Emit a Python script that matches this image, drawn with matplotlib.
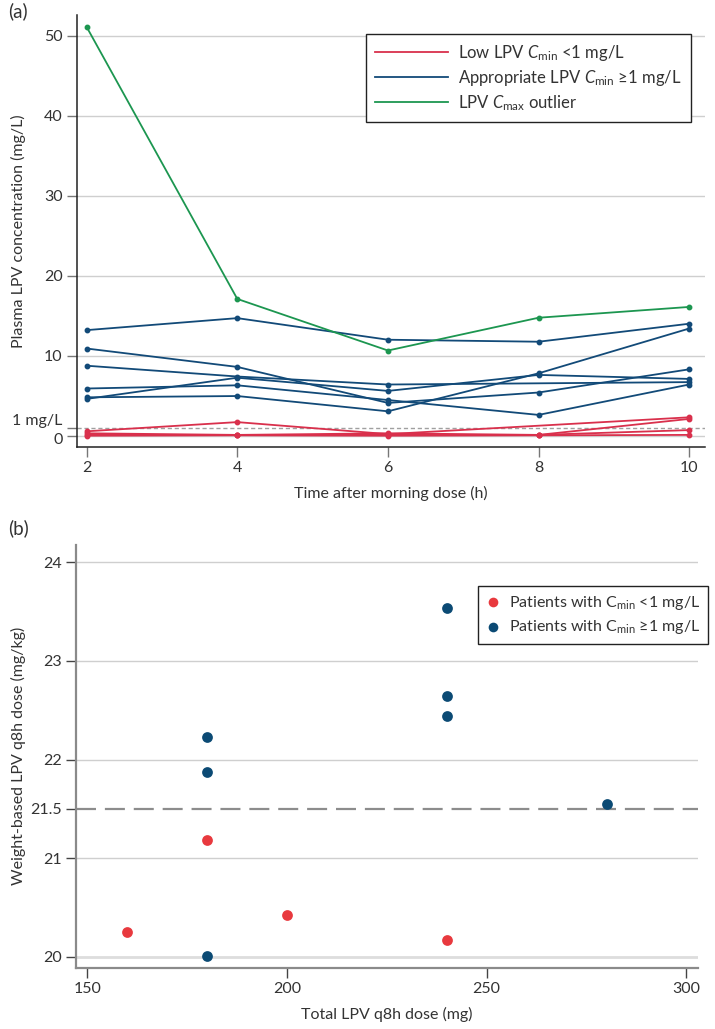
import numpy as np
import matplotlib
matplotlib.use('Agg')
import matplotlib.pyplot as plt
import matplotlib.transforms as mtransforms
from matplotlib.lines import Line2D

plt.rcParams['font.family'] = ['Lato', 'DejaVu Sans']
plt.rcParams['mathtext.fontset'] = 'custom'
plt.rcParams['mathtext.rm'] = 'Lato'
plt.rcParams['mathtext.it'] = 'Lato:italic'
plt.rcParams['mathtext.default'] = 'regular'

nan = np.nan
# ---------------- Panel (a) data ----------------
times = [2, 4, 6, 8, 10]
low_cmin = [
    [0.55, 1.7, 0.2, nan, 2.3],
    [0.3, 0.1, 0.1, 0.1, 2.1],
    [0.1, 0.1, 0.3, 0.1, 0.7],
    [0.0, 0.05, 0.0, 0.05, 0.1],
]
appropriate = [
    [13.2, 14.7, 12.0, 11.75, 14.0],
    [10.9, 8.6, 4.1, 5.4, 8.3],
    [8.75, 7.4, 6.4, nan, 6.7],
    [4.6, 7.25, 5.6, 7.6, 7.1],
    [5.9, 6.3, 4.46, 2.6, 6.4],
    [4.8, 4.96, 3.05, 7.8, 13.4],
]
outlier = [51.1, 17.1, 10.65, 14.75, 16.1]
a_yticks = [0, 1, 10, 20, 30, 40, 50]
a_yticklabels = ['0', '1 mg/L', '10', '20', '30', '40', '50']

# ---------------- Panel (b) data ----------------
dose_low = [160, 180, 200, 240]
wt_low = [20.25, 21.18, 20.42, 20.17]
dose_ok = [180, 180, 180, 240, 240, 240, 280]
wt_ok = [20.01, 21.87, 22.23, 22.44, 22.64, 23.54, 21.545]
b_xticks = [150, 200, 250, 300]
b_yticks = [20, 21, 21.5, 22, 23, 24]
b_yticklabels = ['20', '21', '21.5', '22', '23', '24']

RED_A = '#d9304c'
BLUE_A = '#124a78'
GREEN_A = '#1c9650'
RED_B = '#e8393e'
BLUE_B = '#0b4a74'
GRID = '#cfcfcf'
TXT = '#333333'

W, H = 715, 1029
fig = plt.figure(figsize=(W / 100, H / 100), dpi=100)

def fx(px):
    return px / W

def fy(py):
    return 1 - py / H

# ---------- Axes (a) ----------
a_left, a_right, a_top, a_bot = 76.5, 705, 15, 446.7
axa = fig.add_axes([fx(a_left), fy(a_bot), fx(a_right) - fx(a_left), fy(a_top) - fy(a_bot)])
axa.set_xlim(1.865, 10.21)
axa.set_ylim(-1.375, 52.6)
for v in [0, 10, 20, 30, 40, 50]:
    axa.axhline(v, color=GRID, lw=1.0, zorder=0)
axa.axhline(1, color='#a0a0a0', lw=1.0, ls=(0, (3, 2)), zorder=1)

def plot_series(ax, xs, ys, color):
    xs = np.array(xs, float)
    ys = np.array(ys, float)
    m = ~np.isnan(ys)
    ax.plot(xs[m], ys[m], color=color, lw=1.3, marker='o', ms=3.2, zorder=3)

for s in low_cmin:
    plot_series(axa, times, s, RED_A)
for s in appropriate:
    plot_series(axa, times, s, BLUE_A)
plot_series(axa, times, outlier, GREEN_A)

axa.set_xticks(times)
axa.set_yticks(a_yticks)
axa.set_yticklabels(a_yticklabels)
axa.tick_params(axis='both', direction='out', length=7, width=1, color='#777777',
                labelsize=11.5, labelcolor=TXT, pad=3)
# separate the crowded "1 mg/L" and "0" labels as in the reference
for lab in axa.get_yticklabels():
    if lab.get_text() == '1 mg/L':
        lab.set_transform(lab.get_transform() +
                          mtransforms.ScaledTranslation(0, 6 / 72, fig.dpi_scale_trans))
    elif lab.get_text() == '0':
        lab.set_transform(lab.get_transform() +
                          mtransforms.ScaledTranslation(0, -2 / 72, fig.dpi_scale_trans))
for sp in ['top', 'right']:
    axa.spines[sp].set_visible(False)
for sp in ['left', 'bottom']:
    axa.spines[sp].set_color('#222222')
    axa.spines[sp].set_linewidth(1.1)
axa.set_xlabel('Time after morning dose (h)', fontsize=11.5, color=TXT, labelpad=8)
axa.set_ylabel('Plasma LPV concentration (mg/L)', fontsize=11.5, color=TXT)
axa.yaxis.set_label_coords((26 - a_left) / (a_right - a_left), 0.5)

handles_a = [Line2D([], [], color=RED_A, lw=1.3),
             Line2D([], [], color=BLUE_A, lw=1.3),
             Line2D([], [], color=GREEN_A, lw=1.3)]
labels_a = [r'Low LPV $\mathit{C}_{\mathrm{min}}$ <1 mg/L',
            r'Appropriate LPV $\mathit{C}_{\mathrm{min}}$ ≥1 mg/L',
            r'LPV $\mathit{C}_{\mathrm{max}}$ outlier']
leg = axa.legend(handles_a, labels_a, loc='upper right',
                 bbox_to_anchor=(fx(691), fy(34)), bbox_transform=fig.transFigure,
                 fontsize=12, handlelength=4.4, handletextpad=0.6, labelspacing=0.3,
                 borderpad=0.55, borderaxespad=0, fancybox=False, framealpha=1,
                 edgecolor='#222222')
leg.get_frame().set_linewidth(1.0)
for t in leg.get_texts():
    t.set_color(TXT)

fig.text(fx(8), fy(11), '(a)', fontsize=13.5, color=TXT, va='center', ha='left')

# ---------- Axes (b) ----------
b_left, b_right, b_top, b_bot = 75.7, 698, 545, 967.7
axb = fig.add_axes([fx(b_left), fy(b_bot), fx(b_right) - fx(b_left), fy(b_top) - fy(b_bot)])
k = 199.7 / 50.0
axb.set_xlim(150 - (87.3 - b_left) / k, 150 + (b_right - 87.3) / k)
axb.set_ylim(20 - (b_bot - 956.7) / 98.6, 20 + (956.7 - b_top) / 98.6)
for v in [20, 21, 22, 23, 24]:
    axb.axhline(v, color=GRID if v != 20 else '#dddddd', lw=1.0 if v != 20 else 2.0, zorder=0)
axb.axhline(21.5, color='#8c8c8c', lw=1.6, ls=(0, (9, 4)), zorder=1)

axb.scatter(dose_low, wt_low, s=60, color=RED_B, zorder=3, linewidths=0,
            label=r'Patients with C$_{\mathrm{min}}$ <1 mg/L')
axb.scatter(dose_ok, wt_ok, s=60, color=BLUE_B, zorder=3, linewidths=0,
            label=r'Patients with C$_{\mathrm{min}}$ ≥1 mg/L')

axb.set_xticks(b_xticks)
axb.set_yticks(b_yticks)
axb.set_yticklabels(b_yticklabels)
axb.tick_params(axis='both', direction='out', length=7, width=1, color='#444444',
                labelsize=11.5, labelcolor=TXT, pad=3)
for sp in ['top', 'right']:
    axb.spines[sp].set_visible(False)
for sp in ['left', 'bottom']:
    axb.spines[sp].set_color('#8a8a8a')
    axb.spines[sp].set_linewidth(1.6)
axb.set_xlabel('Total LPV q8h dose (mg)', fontsize=11.5, color=TXT, labelpad=8)
axb.set_ylabel('Weight-based LPV q8h dose (mg/kg)', fontsize=11.5, color=TXT)
axb.yaxis.set_label_coords((26 - b_left) / (b_right - b_left), 0.5)

legb = axb.legend(loc='upper right', bbox_to_anchor=(fx(708), fy(585.7)),
                  bbox_transform=fig.transFigure, fontsize=11.5, handlelength=0.8,
                  handletextpad=0.6, labelspacing=0.4, borderpad=0.5, borderaxespad=0,
                  fancybox=False, framealpha=1, edgecolor='#222222', scatterpoints=1,
                  markerscale=0.9)
legb.get_frame().set_linewidth(1.0)
for t in legb.get_texts():
    t.set_color(TXT)

fig.text(fx(8), fy(528), '(b)', fontsize=13.5, color=TXT, va='center', ha='left')

fig.savefig('out.png', dpi=100)
